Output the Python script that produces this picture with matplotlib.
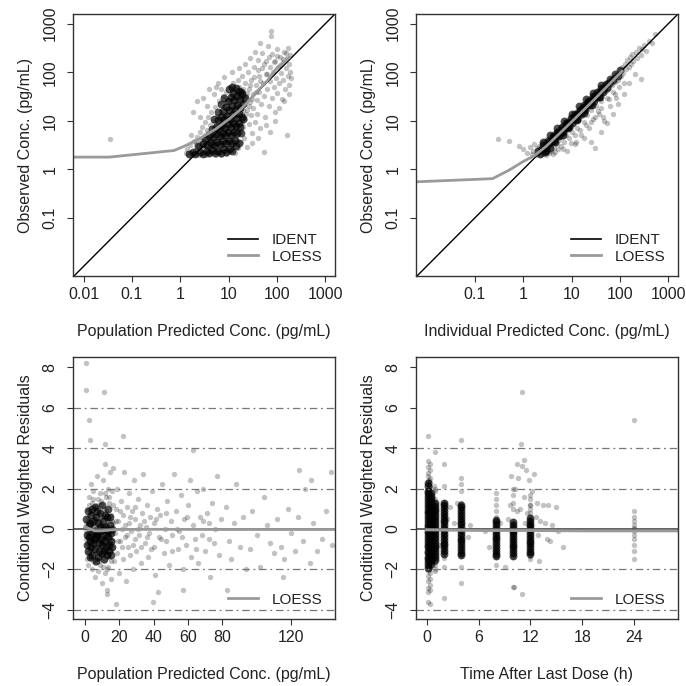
import numpy as np
import matplotlib
matplotlib.use("Agg")
import matplotlib.pyplot as plt
from matplotlib.lines import Line2D

plt.rcParams['font.family'] = ['Liberation Sans', 'DejaVu Sans']

# ---- data ----
# top left: population predicted vs observed conc. (pg/mL)
pred_dv = [
    (1.3, 2.2), (1.4, 2.6), (1.5, 2.0), (1.6, 3.1), (1.7, 2.3), (1.8, 2.0), (1.9, 3.8), (2.0, 2.5),
    (2.1, 2.1), (2.2, 4.6), (2.3, 3.0), (2.4, 2.0), (2.5, 5.8), (2.6, 2.4), (2.7, 3.5), (2.8, 7.5),
    (2.9, 2.1), (3.0, 4.2), (3.1, 2.7), (3.2, 9.5), (3.3, 5.1), (3.4, 2.0), (3.5, 3.2), (3.6, 6.4),
    (3.7, 2.4), (3.8, 12), (3.9, 4.0), (4.0, 2.1), (4.1, 8.0), (4.2, 2.9), (4.3, 5.0), (4.4, 15),
    (4.5, 3.6), (4.6, 2.2), (4.7, 6.5), (4.8, 10), (4.9, 2.6), (5.0, 4.4), (5.2, 19), (5.3, 3.1),
    (5.4, 7.8), (5.5, 2.0), (5.6, 5.5), (5.8, 12.5), (5.9, 2.5), (6.0, 3.8), (6.2, 9.2), (6.3, 25),
    (6.4, 2.2), (6.5, 4.8), (6.7, 6.8), (6.8, 3.0), (7.0, 15), (7.1, 2.0), (7.2, 11), (7.4, 5.6),
    (7.5, 32), (7.6, 3.5), (7.8, 8.2), (8.0, 2.4), (8.1, 20), (8.3, 4.3), (8.5, 6.4), (8.6, 13),
    (8.8, 2.1), (9.0, 40), (9.1, 9.8), (9.3, 3.0), (9.5, 5.2), (9.6, 26), (9.8, 16), (10.0, 2.3),
    (10.2, 7.2), (10.4, 3.8), (10.5, 50), (10.7, 11.5), (11.0, 33), (11.2, 2.6), (11.4, 20), (11.6, 5.8),
    (11.8, 8.6), (12.0, 14), (12.2, 4.4), (12.4, 60), (12.6, 27), (12.8, 3.1), (13.0, 10.5), (13.2, 42),
    (13.4, 6.8), (13.6, 18), (13.8, 2.2), (14.0, 23), (14.3, 8.0), (14.6, 35), (14.9, 4.9), (15.2, 13),
    (15.5, 70), (15.8, 2.8), (16.0, 17), (16.4, 50), (16.8, 6.0), (17.2, 10), (17.6, 28), (18.0, 3.6),
    (18.5, 85), (19.0, 14), (19.5, 40), (20.0, 7.5), (20.5, 22), (21.0, 4.5), (21.5, 60), (22.0, 11),
    (22.8, 32), (23.5, 17), (24.0, 2.9), (25.0, 100), (25.8, 8.5), (26.5, 45), (27.5, 24), (28.5, 13),
    (29.5, 70), (30.5, 5.5), (31.5, 35), (32.5, 18), (34.0, 130), (35.0, 9.5), (36.5, 55), (38.0, 27),
    (39.0, 14), (40.0, 180), (42.0, 85), (43.0, 40), (44.5, 7), (46.0, 22), (48.0, 250), (50.0, 120),
    (52.0, 60), (54.0, 2.3), (55.0, 32), (57.0, 12), (59.0, 170), (61.0, 90), (63.0, 45), (65.0, 350),
    (67.0, 20), (70.0, 130), (72.0, 65), (74.0, 700), (76.0, 550), (78.0, 30), (80.0, 240), (83.0, 100),
    (86.0, 50), (89.0, 15), (92.0, 170), (95.0, 75), (98.0, 300), (102.0, 38), (106.0, 130), (110.0, 60),
    (115.0, 210), (120.0, 95), (125.0, 28), (130.0, 160), (135.0, 70), (140.0, 260), (145.0, 45),
    (150.0, 120), (158.0, 5.0), (160.0, 200), (165.0, 85), (170.0, 320), (175.0, 55), (180.0, 150),
    (185.0, 100), (190.0, 230), (195.0, 75), (0.035, 4.2), (1.66, 5.0),
    (2.1, 3.4), (2.4, 2.8), (2.6, 4.0), (2.9, 3.2), (3.1, 2.3), (3.3, 3.9), (3.5, 4.7), (3.7, 5.6),
    (3.9, 2.8), (4.1, 3.4), (4.3, 4.0), (4.5, 5.9), (4.7, 3.0), (4.9, 7.1), (5.1, 2.3), (5.3, 4.0),
    (5.5, 9.0), (5.7, 3.3), (5.9, 6.0), (6.1, 2.7), (6.3, 4.5), (6.6, 11), (6.9, 5.2), (7.1, 7.3),
    (7.3, 3.3), (7.7, 9.6), (7.9, 4.8), (8.2, 14), (8.4, 2.8), (8.7, 7.5), (8.9, 11), (9.2, 4.0),
    (9.4, 18), (9.7, 6.0), (9.9, 8.8), (10.3, 13), (10.6, 5.0), (10.9, 24), (11.1, 9.5), (11.5, 3.4),
    (11.9, 17), (12.3, 7.6), (12.7, 12), (13.1, 5.3), (13.5, 30), (13.9, 9.0), (14.2, 15.5), (14.7, 3.9),
    (15.0, 21), (15.6, 11.5), (16.2, 7.0), (16.6, 38), (17.0, 20), (17.4, 13), (18.2, 25), (18.8, 9.0),
    (19.4, 17), (20.2, 45), (21.2, 30), (22.5, 14), (24.5, 38), (26.0, 20), (28.0, 55), (30.0, 28),
    (33.0, 80), (37.0, 40), (41.0, 110), (45.0, 65), (53.0, 150), (58.0, 90), (68.0, 210), (85.0, 160),
    (100.0, 220), (117.0, 140), (135.0, 190), (155.0, 250),
    (1.8, 15), (2.2, 25), (2.6, 12), (3.0, 30), (3.5, 20), (4.0, 45), (5.0, 35), (6.0, 60), (7.0, 45),
    (8.0, 80), (5.5, 50), (11.5, 100), (16.0, 120), (22.0, 150), (28.0, 200), (35.0, 260), (45.0, 400),
    (30.0, 3.5), (40.0, 4.5), (60.0, 8), (70.0, 6), (90.0, 10), (110.0, 18), (140.0, 25), (180.0, 35),
]
# the near-black part of the cloud
pred_dv_core = [
    (1.5, 2.1), (1.8, 2.3), (2.0, 2.1), (2.5, 2.3), (3.0, 2.1), (3.5, 2.4), (4.0, 2.2), (4.6, 2.5),
    (5.2, 2.2), (6.0, 2.4), (7.0, 2.2), (8.0, 2.6), (9.0, 2.3), (10.5, 2.6), (12.0, 2.4), (14.0, 3.0),
    (2.3, 3.0), (2.9, 3.3), (3.6, 3.1), (4.3, 3.5), (5.0, 3.2), (5.8, 3.6), (6.7, 3.3), (7.7, 3.8),
    (8.8, 3.4), (10.0, 3.9), (11.5, 3.5), (13.5, 4.0), (16.0, 3.5),
    (3.2, 4.5), (4.0, 5.0), (4.8, 4.6), (5.6, 5.4), (6.5, 4.8), (7.5, 5.6), (8.6, 5.0), (9.8, 5.8),
    (11.2, 5.2), (12.8, 6.0), (15.0, 5.5), (18.0, 5.5),
    (4.5, 6.8), (5.4, 7.5), (6.3, 6.9), (7.3, 8.0), (8.4, 7.2), (9.6, 8.5), (11.0, 7.5), (12.5, 8.8),
    (14.3, 7.8), (16.5, 9.0), (17.0, 7.5),
    (5.0, 11), (6.0, 10.5), (7.0, 12), (8.2, 10.8), (9.4, 12.8), (10.8, 11), (12.3, 13.5), (14.0, 11.5),
    (16.0, 13.8), (18.5, 12), (20.0, 11),
    (6.0, 15), (7.8, 16), (9.0, 19), (10.4, 16.5), (11.8, 20), (13.4, 17), (15.2, 21), (17.2, 18),
    (19.5, 22), (7.0, 22),
    (8.0, 30), (9.8, 26), (11.4, 31), (13.0, 27), (14.8, 33), (16.8, 28), (19.0, 35), (21.5, 30),
    (12.5, 38), (16.0, 42), (10.0, 45), (12.0, 50), (14.0, 48), (18.0, 40),
]
pred_loess_x = [0.0057, 0.034, 0.75, 1.31, 2.47, 5.47, 10.3, 16.6, 24.7, 36.8, 59, 95, 180]
pred_loess_y = [1.78, 1.78, 2.44, 3.1, 4.24, 6.8, 10.9, 16.2, 24, 38.4, 61.7, 116, 200]

# top right: individual predicted vs observed conc. (pg/mL)
ipred_dv = [
    (0.3, 4.2), (0.5, 3.8), (0.8, 3.0), (1.0, 2.6), (1.2, 2.2), (1.4, 2.9), (1.5, 2.1), (1.6, 2.4),
    (1.7, 3.3), (1.8, 2.0), (1.9, 2.7), (2.0, 2.2), (2.1, 3.0), (2.2, 2.0), (2.3, 2.5), (2.4, 3.4),
    (2.5, 2.1), (2.6, 2.8), (2.7, 3.8), (2.8, 2.3), (2.9, 3.1), (3.0, 2.0), (3.1, 4.2), (3.2, 2.6),
    (3.3, 3.5), (3.4, 2.2), (3.5, 4.6), (3.6, 3.0), (3.7, 2.4), (3.8, 4.0), (3.9, 5.2), (4.0, 3.4),
    (4.1, 2.1), (4.2, 4.5), (4.3, 2.8), (4.4, 5.6), (4.5, 3.9), (4.6, 2.3), (4.7, 5.0), (4.8, 6.2),
    (4.9, 3.3), (5.0, 4.5), (5.2, 5.8), (5.3, 2.6), (5.4, 6.8), (5.5, 4.0), (5.7, 5.2), (5.8, 7.3),
    (6.0, 3.0), (6.1, 6.2), (6.3, 4.6), (6.4, 8.0), (6.6, 5.6), (6.8, 7.0), (7.0, 3.6), (7.2, 8.6),
    (7.4, 6.2), (7.6, 9.3), (7.8, 5.0), (8.0, 7.6), (8.2, 2.4), (8.4, 10.2), (8.6, 6.8), (8.8, 8.8),
    (9.0, 4.4), (9.2, 11), (9.5, 7.6), (9.8, 9.8), (10.0, 12.5), (10.3, 6.0), (10.6, 10.8), (10.9, 13.5),
    (11.2, 8.4), (11.5, 12), (11.8, 3.3), (12.1, 14.5), (12.4, 10), (12.8, 16), (13.2, 7.0), (13.6, 13.5),
    (14.0, 17), (14.4, 11), (14.8, 19), (15.2, 14.5), (15.7, 5.2), (16.2, 20), (16.7, 12.5), (17.2, 18),
    (17.8, 22), (18.4, 9.5), (19.0, 16), (19.6, 24), (20.3, 20), (21.0, 13), (21.8, 26), (22.6, 7.0),
    (23.4, 22), (24.2, 29), (25.0, 17), (26.0, 31), (27.0, 25), (28.0, 11), (29.0, 34), (30.0, 27),
    (31.5, 20), (33.0, 38), (34.5, 30), (36.0, 14), (37.5, 43), (39.0, 34), (41.0, 25), (43.0, 48),
    (45.0, 38), (47.0, 10), (49.0, 54), (51.0, 42), (53.0, 30), (56.0, 60), (59.0, 48), (62.0, 20),
    (65.0, 68), (68.0, 55), (71.0, 40), (75.0, 80), (79.0, 62), (83.0, 30), (87.0, 90), (91.0, 70),
    (95.0, 50), (100.0, 110), (105.0, 85), (110.0, 130), (116.0, 95), (122.0, 60), (128.0, 150),
    (135.0, 115), (142.0, 180), (150.0, 130), (160.0, 210), (170.0, 150), (180.0, 240), (190.0, 170),
    (200.0, 90), (215.0, 260), (230.0, 200), (250.0, 320), (270.0, 230), (290.0, 300), (320.0, 360),
    (350.0, 270), (400.0, 450), (450.0, 400), (520.0, 600), (270.0, 74),
    (6.5, 2.6), (9.5, 3.5), (12.0, 5.0), (15.0, 6.5), (20.0, 8.0), (25.0, 9.5), (30.0, 12), (35.0, 16),
    (40.0, 18), (60.0, 28), (80.0, 35), (12.3, 3.6), (31.0, 2.8), (25.0, 3.6), (18.0, 4.5), (40.0, 6.0),
    (55.0, 9.0), (70.0, 14), (90.0, 22), (120.0, 35), (150.0, 60), (43.6, 11.8),
    (2.2, 2.6), (2.5, 3.0), (2.8, 3.3), (3.1, 3.6), (3.4, 4.0), (3.7, 4.4), (4.0, 4.8), (4.4, 5.1),
    (4.8, 5.5), (5.2, 6.2), (5.6, 6.5), (6.0, 7.0), (6.5, 7.6), (7.0, 8.2), (7.5, 8.8), (8.0, 9.3),
    (8.6, 10.0), (9.2, 10.5), (9.9, 11.5), (10.6, 12.2), (11.4, 13.0), (12.3, 14.0), (13.2, 15.2),
    (14.2, 16.5), (15.3, 17.5), (16.5, 19.0), (17.8, 20.5), (19.2, 22), (20.7, 23.5), (22.3, 25.5),
    (24.0, 27.5), (26.0, 29.5), (28.0, 32), (30.5, 34), (33.0, 37), (36.0, 40), (39.0, 44), (42.0, 47),
    (46.0, 51), (50.0, 56), (55.0, 62), (60.0, 66), (66.0, 73), (72.0, 79), (80.0, 88), (3.0, 2.6),
    (4.5, 4.0), (6.2, 5.5), (8.3, 7.4), (11.0, 9.8), (14.5, 13), (19.5, 17.5), (26.0, 23), (35.0, 31),
    (48.0, 43), (65.0, 58),
]
ipred_dv_core = [
    (2.2, 2.1), (2.4, 2.6), (2.6, 3.2), (2.8, 2.3), (3.0, 2.9), (3.3, 3.8), (3.5, 2.8), (3.8, 3.6),
    (4.1, 4.8), (4.4, 3.9), (4.7, 4.8), (5.0, 6.0), (5.4, 4.8), (5.8, 5.9), (6.2, 7.4), (6.7, 5.9),
    (7.2, 7.2), (7.7, 9.0), (8.3, 7.2), (8.9, 8.9), (9.6, 11.2), (10.3, 8.9), (11.0, 11.0), (11.8, 13.8),
    (12.7, 11.0), (13.6, 13.6), (14.6, 17), (15.7, 13.6), (16.8, 16.8), (18.0, 21), (19.3, 16.8),
    (20.7, 20.7), (22.2, 26), (23.8, 20.7), (25.5, 25.5), (27.3, 32), (29.3, 25.5), (31.4, 31.4),
    (33.7, 39), (36.0, 31.5), (38.6, 38.6), (41.4, 48), (44.4, 39), (47.6, 47.6), (51.0, 58),
    (55.0, 48), (59.0, 59), (63.0, 71), (2.0, 2.4), (3.2, 3.3), (5.1, 5.0), (8.0, 8.1), (12.5, 12.8),
    (19.0, 19.5), (30.0, 31),
    (2.5, 3.6), (3.5, 5.0), (5.0, 7.2), (7.0, 10), (10.0, 14), (14.0, 20), (20.0, 28), (28.0, 38),
    (40.0, 54), (3.0, 2.4), (4.5, 3.6), (6.5, 5.2), (9.0, 7.3), (13.0, 10.5), (18.0, 14.5),
    (26.0, 21), (38.0, 31), (70.0, 70), (80.0, 92), (90.0, 85), (100.0, 112),
]
ipred_loess_x = [0.0058, 0.23, 0.5, 1.0, 1.7, 3.0, 10, 30, 110]
ipred_loess_y = [0.55, 0.64, 0.95, 1.45, 1.9, 3.0, 9.5, 28, 105]

# bottom left: population predicted (pg/mL) vs CWRES
pred_cwres = [
    (0.8, -0.5), (1.0, 0.3), (1.2, -1.2), (1.4, 1.0), (1.6, -0.2), (1.8, -1.8), (2.0, 0.6), (2.2, -0.8),
    (2.4, 1.6), (2.6, 0.0), (2.8, -1.4), (3.0, 0.9), (3.2, -0.4), (3.4, 2.2), (3.6, -1.0), (3.8, 0.4),
    (4.0, -2.0), (4.2, 1.3), (4.4, -0.6), (4.6, 0.1), (4.8, -1.6), (5.0, 1.9), (5.2, -0.3), (5.4, 0.7),
    (5.6, -1.1), (5.8, -2.4), (6.0, 0.2), (6.2, 1.1), (6.4, -0.7), (6.6, -1.5), (6.8, 0.5), (7.0, 2.6),
    (7.2, -0.2), (7.4, -0.9), (7.6, 1.5), (7.8, -2.1), (8.0, 0.0), (8.2, 0.8), (8.4, -1.3), (8.6, -0.5),
    (8.8, 1.8), (9.0, -1.8), (9.2, 0.3), (9.4, -0.8), (9.6, 1.2), (9.8, -2.7), (10.0, -0.1), (10.2, 0.6),
    (10.4, -1.0), (10.6, 2.4), (10.8, -0.4), (11.0, 1.0), (11.2, -1.6), (11.4, 0.2), (11.6, -0.6),
    (11.8, 3.2), (12.0, -2.2), (12.2, 0.9), (12.4, -0.3), (12.6, 1.6), (12.8, -1.1), (13.0, -3.0),
    (13.2, 0.4), (13.4, 2.0), (13.6, -0.7), (13.8, -1.9), (14.0, 1.3), (14.2, 0.0), (14.4, -1.4),
    (14.6, 2.8), (14.8, -0.5), (15.0, 0.7), (15.3, -2.5), (15.6, 1.9), (15.9, -0.9), (16.2, 0.3),
    (16.5, 3.0), (16.8, -1.6),
    (0.9, -0.1), (1.3, -0.7), (1.7, 0.4), (2.1, -0.3), (2.5, -1.0), (2.9, 0.2), (3.3, -0.6), (3.7, 0.8),
    (4.1, -0.4), (4.5, -1.2), (4.9, 0.3), (5.3, -0.8), (5.7, 0.5), (6.1, -0.5), (6.5, -0.1), (6.9, -1.2),
    (7.3, 0.4), (7.7, -0.6), (8.1, -0.9), (8.5, 0.2), (8.9, -0.3), (9.3, -1.4), (9.7, 0.5), (10.1, -0.7),
    (10.5, 0.1), (10.9, -1.2), (11.3, -0.2), (11.7, 0.6), (12.1, -0.9), (12.5, -0.4), (12.9, 0.2),
    (13.3, -1.3), (13.7, -0.2), (14.1, 0.5), (14.5, -0.8), (14.9, -0.1), (15.4, -1.1), (15.8, 0.4),
    (16.3, -0.6), (1.1, -1.5), (2.3, 1.2), (3.5, -1.5), (4.7, 1.5), (5.9, -1.7), (7.1, 1.2), (8.3, -1.6),
    (9.5, 1.4), (10.7, -1.9), (11.9, 1.8), (13.1, -2.0), (14.3, 1.6), (15.5, -1.6), (16.6, 1.2),
    (3.9, -0.9), (6.3, 0.0), (8.7, -0.2), (11.1, -0.4), (13.5, 0.1), (15.1, -0.3), (2.7, -0.2),
    (5.1, -0.6), (7.5, -0.4), (9.9, -0.5), (12.3, -0.6), (14.7, -0.7),
    (17.5, -0.2), (18.0, 1.0), (18.5, -1.2), (19.0, 2.0), (19.5, 0.4), (20.0, -2.2), (20.5, -0.6),
    (21.0, 1.4), (21.5, 0.0), (22.0, -1.5), (22.5, 0.7), (23.0, 2.8), (23.5, -0.4), (24.0, -2.6),
    (24.5, 1.1), (25.0, -0.9), (25.5, 0.3), (26.0, 1.8), (26.5, -1.3), (27.0, -0.1), (27.5, 0.9),
    (28.0, -2.0), (28.5, 2.4), (29.0, -0.5), (29.5, 0.5), (30.0, -1.1), (31.0, 1.5), (31.5, -0.3),
    (32.0, 0.2), (33.0, -1.7), (33.5, 0.8), (34.0, 2.7), (35.0, -0.7), (35.5, 0.1), (36.0, 1.2),
    (37.0, -1.4), (37.5, -0.2), (38.0, 0.6), (39.0, 1.9), (40.0, -0.9), (40.5, 0.3), (41.0, -2.3),
    (42.0, 1.0), (43.0, -0.4), (44.0, 0.7), (45.0, 2.2), (46.0, -1.2), (46.5, 0.0), (47.0, -0.6),
    (48.0, 1.4), (49.0, -1.8), (50.0, 0.4), (51.0, -0.3), (52.0, 2.7), (53.0, 0.9), (54.0, -1.0),
    (55.0, -0.1), (56.0, 1.7), (57.0, -2.0), (58.0, 0.5), (59.0, -0.8), (60.0, 1.2), (61.0, 2.4),
    (62.0, -1.4), (63.0, 0.2), (64.0, -0.5), (65.0, 1.9), (66.0, -1.7), (67.0, 0.6), (68.0, -0.3),
    (69.0, 2.0), (70.0, -1.1), (71.0, 0.8), (72.0, 0.3), (73.0, -2.4), (74.0, 1.3), (75.0, -0.7),
    (76.0, 0.0), (77.0, 2.6), (78.0, -1.3), (79.0, 0.5),
    (18.2, 0.4), (19.2, -0.6), (20.8, 0.9), (21.8, -0.9), (23.2, 0.2), (24.8, -0.3), (26.3, 0.6),
    (27.8, -0.8), (29.3, 1.1), (30.8, 0.0), (32.5, -0.9), (34.5, 0.4), (36.5, -0.4), (38.5, -1.0),
    (41.5, 0.5), (44.5, -0.5), (47.5, 0.8), (50.5, -1.1), (53.5, 0.0), (56.5, -0.4), (59.5, 0.6),
    (64.5, -1.0), (68.5, 0.4), (72.5, -0.5),
    (82, 1.1), (84, -0.6), (85, -1.5), (87, 0.3), (88, 2.2), (90, -0.9), (92, 0.6), (94, -2.0),
    (96, -1.0), (97, 0.9), (100, -0.3), (102, -1.9), (104, 1.6), (106, 0.2), (108, -0.7), (110, -1.2),
    (112, 0.5), (114, -0.9), (116, -1.5), (118, 1.0), (120, -0.2), (122, -1.1), (124, 0.6), (127, -0.6),
    (128, 2.0), (131, -1.7), (133, 0.3), (135, -1.1), (138, -0.5), (140, 0.9), (144, -0.8),
    (0.5, 8.2), (0.5, 6.9), (2.5, 5.4), (3.0, 4.4), (11.0, 6.8), (12.0, 4.2), (22.0, 4.6), (63.0, 3.9),
    (124.4, 2.9), (131.8, 2.4), (143.0, 2.8), (42.9, -3.1), (39.6, -3.6), (115.0, -2.4), (82.5, -3.0),
    (57.4, -3.0), (18.0, -3.7), (13.0, -3.2),
]
pred_cwres_core = [
    (1.0, 0.5), (1.5, -0.3), (2.0, -1.1), (2.5, 0.2), (3.0, -0.6), (3.5, 0.7), (4.0, -0.2), (4.5, -1.3),
    (5.0, 0.4), (5.5, -0.5), (6.0, -1.0), (6.5, 0.6), (7.0, -0.3), (7.5, -1.4), (8.0, 0.3), (8.5, -0.7),
    (9.0, 0.8), (9.5, -0.1), (10.0, -1.2), (10.5, 0.4), (11.0, -0.6), (11.5, -1.5), (12.0, 0.1),
    (12.5, -0.9), (13.0, 0.6), (13.5, -0.4), (14.0, -1.1), (14.5, 0.2), (15.0, -0.6), (15.5, -1.3),
    (16.0, 0.0), (1.2, -0.8), (1.8, 0.9), (2.3, -0.4), (2.8, -1.4), (3.3, 0.3), (3.8, -0.9), (4.3, 1.0),
    (4.8, -0.7), (5.3, -0.1), (5.8, 1.1), (6.3, -0.4), (6.8, -1.6), (7.3, 0.9), (7.8, -0.2), (8.3, -1.1),
    (8.8, 0.1), (9.3, -0.5), (9.8, 1.2), (10.3, -0.8), (10.8, 0.0), (11.3, -1.1), (11.8, 0.7),
    (12.3, -0.3), (12.8, -1.3), (13.3, 1.0), (13.8, -0.1), (14.3, -0.8), (14.8, 0.6), (15.3, -0.2),
    (15.8, -0.9),
]
pred_cwres_loess_x = [0, 3, 6, 9, 12, 16, 20, 40, 80, 120, 146]
pred_cwres_loess_y = [0.1, 0.0, -0.1, -0.1, -0.08, -0.05, -0.03, -0.02, -0.03, -0.03, -0.03]

# bottom right: time after last dose (h) vs CWRES, one list per sampling time
tad_times = [0.1, 0.4, 0.25, 1, 2, 4, 8, 10, 12, 24]
tad_cwres = [
    [4.6, 3.35, 3.05, 2.75, 2.6, 2.35, 2.2, 1.95, 1.9, 1.7, 1.5, 1.45, 1.2, 1.1, 0.9, 0.85, 0.6, 0.5,
     0.3, 0.25, 0.0, -0.1, -0.3, -0.35, -0.6, -0.7, -0.9, -0.95, -1.2, -1.3, -1.5, -1.55, -1.8, -1.9,
     -2.1, -2.35, -2.6, -2.95, -3.1, -3.6],
    [3.2, 2.9, 2.5, 2.3, 2.05, 1.9, 1.8, 1.6, 1.4, 1.3, 1.15, 0.95, 0.85, 0.7, 0.5, 0.4, 0.2, 0.1,
     -0.05, -0.25, -0.35, -0.5, -0.7, -0.8, -1.0, -1.1, -1.3, -1.4, -1.6, -1.7, -1.9, -2.0, -2.2,
     -2.5, -2.8, -3.0, -3.7],
    [1.6, 1.2, 0.8, 0.45, 0.15, -0.15, -0.45, -0.75, -1.05, -1.35, -1.65, 2.0, -1.95, 2.4, 0.6, -0.6],
    [2.0, 1.9, 1.5, 1.35, 1.2, 1.05, 0.9, 0.75, 0.6, 0.45, 0.3, 0.15, 0.0, -0.15, -0.3, -0.45, -0.6,
     -0.75, -0.9, -1.05, -1.2, -1.35, -1.5, -1.65, -1.8, -2.0, -2.1, 0.5, -0.4, 3.8],
    [3.2, 2.1, 1.35, 1.25, 1.1, 0.95, 0.8, 0.65, 0.5, 0.35, 0.2, 0.05, -0.1, -0.25, -0.4, -0.55,
     -0.7, -0.85, -1.0, -1.15, -1.3, -1.45, -1.9, -3.4, 0.7, -0.3],
    [4.4, 2.5, 2.2, 1.9, 1.3, 1.2, 1.05, 0.9, 0.75, 0.6, 0.45, 0.3, 0.15, 0.0, -0.15, -0.3, -0.45,
     -0.6, -0.75, -0.9, -1.05, -1.2, -1.35, -1.9, -2.7, 0.5, -0.5],
    [1.8, 1.5, 1.2, 0.9, 0.6, 0.45, 0.3, 0.15, 0.0, -0.15, -0.3, -0.45, -0.6, -0.75, -0.9, -1.05,
     -1.2, -1.4, -1.8, 0.1, -0.35],
    [2.0, 1.7, 1.3, 1.0, 0.4, 0.25, 0.1, -0.05, -0.2, -0.35, -0.5, -0.65, -0.8, -0.95, -1.1, -1.25,
     -1.4, -2.9, 0.0, -0.5],
    [1.7, 1.5, 1.2, 1.0, 0.8, 0.6, 0.45, 0.3, 0.15, 0.0, -0.15, -0.3, -0.45, -0.6, -0.75, -0.9,
     -1.05, -1.2, -1.35, -1.5, 0.2, -0.4, -0.8],
    [5.4, 0.9, 0.6, 0.4, 0.2, 0.05, -0.1, -0.3, -0.5, -0.8, -1.1, -1.5, 0.0],
]
# the near-black stretch of each column
tad_core_times = [0.15, 0.45, 1, 2, 4, 8, 10, 12]
tad_core_cwres = [
    [2.25, 2.1, 1.9, 1.8, 1.62, 1.5, 1.33, 1.2, 1.05, 0.9, 0.78, 0.62, 0.48, 0.35, 0.2, 0.08, -0.08,
     -0.2, -0.36, -0.5, -0.63, -0.8, -0.92, -1.08, -1.2, -1.37, -1.5, -1.65, -1.78, -1.95],
    [1.8, 1.65, 1.52, 1.38, 1.22, 1.1, 0.93, 0.8, 0.66, 0.5, 0.38, 0.22, 0.1, -0.05, -0.18, -0.33,
     -0.47, -0.6, -0.76, -0.9, -1.02, -1.18, -1.3, -1.46, -1.6, -1.75],
    [1.3, 1.15, 1.0, 0.88, 0.72, 0.58, 0.44, 0.3, 0.16, 0.02, -0.12, -0.27, -0.4, -0.55, -0.68, -0.83,
     -0.96, -1.1, -1.25, -1.4, -1.52],
    [1.3, 1.16, 1.02, 0.87, 0.74, 0.6, 0.45, 0.32, 0.17, 0.03, -0.12, -0.25, -0.4, -0.53, -0.68,
     -0.82, -0.95, -1.1, -1.22],
    [1.2, 1.06, 0.92, 0.78, 0.64, 0.5, 0.36, 0.22, 0.08, -0.06, -0.2, -0.34, -0.48, -0.62, -0.76,
     -0.9, -1.04, -1.18, -1.3],
    [0.45, 0.32, 0.18, 0.04, -0.1, -0.24, -0.38, -0.52, -0.66, -0.8, -0.94, -1.08, -1.22, -1.35],
    [0.35, 0.2, 0.06, -0.08, -0.22, -0.36, -0.5, -0.64, -0.78, -0.92, -1.06, -1.2, -1.33],
    [0.55, 0.4, 0.26, 0.12, -0.02, -0.16, -0.3, -0.44, -0.58, -0.72, -0.86, -1.0, -1.14, -1.25],
]
tad_cwres_other = [
    (11.0, 6.8), (10.9, 4.2), (11.2, 3.4), (10.5, 3.2), (11.0, 3.1), (11.5, 2.9), (9.8, 2.6),
    (10.6, 2.5), (11.8, 2.4), (12.4, 2.7), (10.2, 2.0), (11.3, 1.6), (12.8, 1.3), (13.4, 1.2),
    (14.0, 1.2), (15.0, 1.1), (10.8, 1.0), (11.6, 0.8), (12.6, 0.6), (13.1, 0.4), (13.7, 0.3),
    (14.5, 0.2), (15.2, -0.1), (12.9, -0.3), (13.9, -0.5), (15.8, -0.9), (9.4, 0.5), (9.0, -1.9),
    (11.0, -3.2), (10.1, -2.9), (14.3, -0.6), (7.2, -0.9), (6.8, -0.1), (3.2, 0.3), (5.0, 0.2),
    (1.5, -0.8), (2.7, 1.1), (3.5, 1.3), (0.8, 2.1), (2.3, 0.5), (9.6, 1.2), (12.2, 1.9), (11.9, 1.2),
    (10.4, 0.9), (11.4, 0.3), (12.1, -1.2), (13.0, -1.6), (8.5, 0.3), (4.8, -0.4),
]
tad_loess_x = [0, 6, 12, 18, 24, 29]
tad_loess_y = [-0.05, -0.08, -0.08, -0.1, -0.1, -0.1]

log_ticks = [0.01, 0.1, 1, 10, 100, 1000]
log_labels = ['0.01', '0.1', '1', '10', '100', '1000']
cwres_ticks = [-4, -2, 0, 2, 4, 6, 8]
pred_ticks = [0, 20, 40, 60, 80, 120]
tad_ticks = [0, 6, 12, 18, 24]

PT_ALPHA = 0.24
PT_SIZE = 15
CORE_ALPHA = 0.68
CORE_SIZE = 32
LOESS_COLOR = '#9a9a9a'
TEXT_COLOR = '#222222'
FS = 11.5

fig = plt.figure(figsize=(6.86, 6.86), dpi=100)
W = 262 / 686
ax1 = fig.add_axes([73 / 686, 410 / 686, W, W])
ax2 = fig.add_axes([416 / 686, 410 / 686, W, W])
ax3 = fig.add_axes([73 / 686, 67 / 686, W, W])
ax4 = fig.add_axes([416 / 686, 67 / 686, W, W])


def points(ax, x, y, core=False):
    ax.scatter(x, y, s=CORE_SIZE if core else PT_SIZE, color='black',
               alpha=CORE_ALPHA if core else PT_ALPHA, linewidths=0)


def style_axes(ax, xlabel, ylabel):
    for sp in ax.spines.values():
        sp.set_color('#333333')
        sp.set_linewidth(1.0)
    ax.tick_params(direction='out', length=4, width=0.8, color='#333333',
                   labelsize=FS, labelcolor=TEXT_COLOR, pad=4)
    ax.tick_params(axis='y', pad=7)
    ax.minorticks_off()
    for lab in ax.get_yticklabels():
        lab.set_rotation(90)
        lab.set_va('center')
    ax.set_xlabel(xlabel, fontsize=FS, color=TEXT_COLOR, labelpad=16)
    ax.set_ylabel(ylabel, fontsize=FS, color=TEXT_COLOR, labelpad=7)


def add_legend(ax, with_ident=True):
    handles = []
    if with_ident:
        handles.append(Line2D([], [], color='black', lw=1.2, label='IDENT'))
    handles.append(Line2D([], [], color=LOESS_COLOR, lw=2.0, label='LOESS'))
    ax.legend(handles=handles, loc='lower right', frameon=False, fontsize=11,
              handlelength=2.0, handletextpad=0.9, labelspacing=0.15,
              borderaxespad=0.4, labelcolor=TEXT_COLOR)


def log_panel(ax, pairs, core_pairs, lx, ly, xlabel, xticks, xlabels):
    x, y = np.array(pairs).T
    cx, cy = np.array(core_pairs).T
    ax.set_xscale('log')
    ax.set_yscale('log')
    points(ax, x, y)
    points(ax, cx, cy, core=True)
    ax.axline((1, 1), (10, 10), color='black', lw=1.0)
    ax.plot(lx, ly, color=LOESS_COLOR, lw=2.0)
    ax.set_xlim(10 ** -2.22, 10 ** 3.2)
    ax.set_ylim(10 ** -2.2, 10 ** 3.2)
    ax.set_xticks(xticks)
    ax.set_xticklabels(xlabels)
    ax.set_yticks(log_ticks[1:])
    ax.set_yticklabels(log_labels[1:])
    style_axes(ax, xlabel, 'Observed Conc. (pg/mL)')
    add_legend(ax, True)


log_panel(ax1, pred_dv, pred_dv_core, pred_loess_x, pred_loess_y,
          'Population Predicted Conc. (pg/mL)', log_ticks, log_labels)
log_panel(ax2, ipred_dv, ipred_dv_core, ipred_loess_x, ipred_loess_y,
          'Individual Predicted Conc. (pg/mL)', log_ticks[1:], log_labels[1:])

grid_style = dict(color='#777777', lw=0.9, ls=(0, (6, 3, 1.5, 3)))

# bottom left
x, y = np.array(pred_cwres).T
points(ax3, x, y)
cx, cy = np.array(pred_cwres_core).T
points(ax3, cx, cy, core=True)
for g in [-4, -2, 2, 4, 6]:
    ax3.axhline(g, **grid_style)
ax3.axhline(0, color='#555555', lw=1.3)
ax3.plot(pred_cwres_loess_x, pred_cwres_loess_y, color=LOESS_COLOR, lw=2.0)
ax3.set_xlim(-6.8, 145.5)
ax3.set_ylim(-4.46, 8.51)
ax3.set_xticks(pred_ticks)
ax3.set_yticks(cwres_ticks)
style_axes(ax3, 'Population Predicted Conc. (pg/mL)', 'Conditional Weighted Residuals')
add_legend(ax3, False)

# bottom right
for t, col in zip(tad_times, tad_cwres):
    points(ax4, [t] * len(col), col)
for t, col in zip(tad_core_times, tad_core_cwres):
    points(ax4, [t] * len(col), col, core=True)
x, y = np.array(tad_cwres_other).T
points(ax4, x, y)
for g in [-4, -2, 2, 4]:
    ax4.axhline(g, **grid_style)
ax4.axhline(0, color='#555555', lw=1.3)
ax4.plot(tad_loess_x, tad_loess_y, color=LOESS_COLOR, lw=2.0)
ax4.set_xlim(-1.23, 29.05)
ax4.set_ylim(-4.46, 8.51)
ax4.set_xticks(tad_ticks)
ax4.set_yticks(cwres_ticks)
style_axes(ax4, 'Time After Last Dose (h)', 'Conditional Weighted Residuals')
add_legend(ax4, False)

fig.savefig('out.png', dpi=100)
